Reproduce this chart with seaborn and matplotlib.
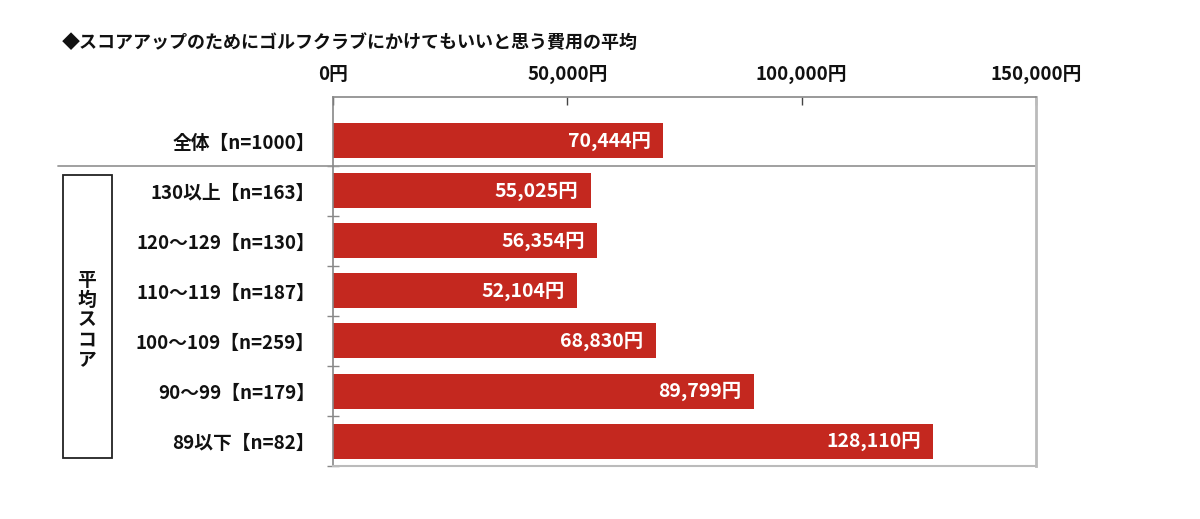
import matplotlib
matplotlib.use("Agg")
import matplotlib.pyplot as plt
import matplotlib.transforms as mtransforms
from matplotlib.patches import Rectangle
from matplotlib.lines import Line2D
import seaborn as sns
import pandas as pd

title = "◆スコアアップのためにゴルフクラブにかけてもいいと思う費用の平均"
categories = ["全体【n=1000】", "130以上【n=163】", "120～129【n=130】", "110～119【n=187】",
              "100～109【n=259】", "90～99【n=179】", "89以下【n=82】"]
values = [70444, 55025, 56354, 52104, 68830, 89799, 128110]
xticks = [0, 50000, 100000, 150000]
xtick_labels = ["0円", "50,000円", "100,000円", "150,000円"]
group_label = "平均スコア"

sns.set_theme(style="white")
plt.rcParams['font.family'] = ['Noto Sans CJK JP', 'DejaVu Sans']
plt.rcParams['font.weight'] = 'bold'

df = pd.DataFrame({"cat": categories, "val": values})

fig = plt.figure(figsize=(12, 5.19), dpi=100)
ax = fig.add_axes([333/1200, 1 - 466/519, (1036-333)/1200, (466-97)/519])

bar_color = "#C4281F"
sns.barplot(data=df, x="val", y="cat", orient="h", color=bar_color, width=0.7,
            saturation=1, ax=ax, edgecolor="none")

ax.set_xlim(0, 150000)
ax.set_ylim(6.5, -0.88)
ax.set_xlabel("")
ax.set_ylabel("")

# top axis ticks
ax.xaxis.tick_top()
ax.set_xticks(xticks)
ax.set_xticklabels(xtick_labels, fontsize=13.5, fontweight="bold", color="#111111")
ax.tick_params(axis="x", direction="in", length=6, width=1, color="#444444", pad=9, top=True, bottom=False)

# y ticks: labels at categories, minor tick marks at boundaries
ax.set_yticks(range(len(categories)))
ax.set_yticklabels(categories, fontsize=13.5, fontweight="bold", color="#111111")
ax.tick_params(axis="y", which="major", length=0, pad=13, left=True)
ax.set_yticks([i + 0.5 for i in range(len(categories))], minor=True)
ax.tick_params(axis="y", which="minor", direction="inout", length=8, width=1, color="#888888", left=True)

for s in ["top", "left"]:
    ax.spines[s].set_color("#888888")
    ax.spines[s].set_linewidth(1.2)
ax.spines["right"].set_color("#bbbbbb")
ax.spines["right"].set_linewidth(2)
ax.spines["bottom"].set_color("#bbbbbb")
ax.spines["bottom"].set_linewidth(1.5)

# value labels
for i, v in enumerate(values):
    ax.text(v - 2600, i, f"{v:,}円", ha="right", va="center", color="white",
            fontsize=14, fontweight="bold")

# separator line between overall and groups
trans = mtransforms.blended_transform_factory(fig.transFigure, ax.transData)
ax.add_line(Line2D([58/1200, 1036/1200], [0.5, 0.5], transform=trans, color="#999999",
                   lw=1.3, clip_on=False))

# group box
fig.patches.append(Rectangle((63/1200, 1 - 458/519), (112-63)/1200, (458-175)/519,
                             transform=fig.transFigure, fill=False, edgecolor="#222222", lw=1.3))
fig.text(87/1200, 1 - 320/519, "\n".join(group_label), ha="center", va="center",
         fontsize=13.5, fontweight="bold", linespacing=1.05, color="#111111")

fig.text(62/1200, 1 - 42/519, title, ha="left", va="center", fontsize=13,
         fontweight="bold", color="#111111")

fig.savefig("out.png", dpi=100, facecolor="white")
